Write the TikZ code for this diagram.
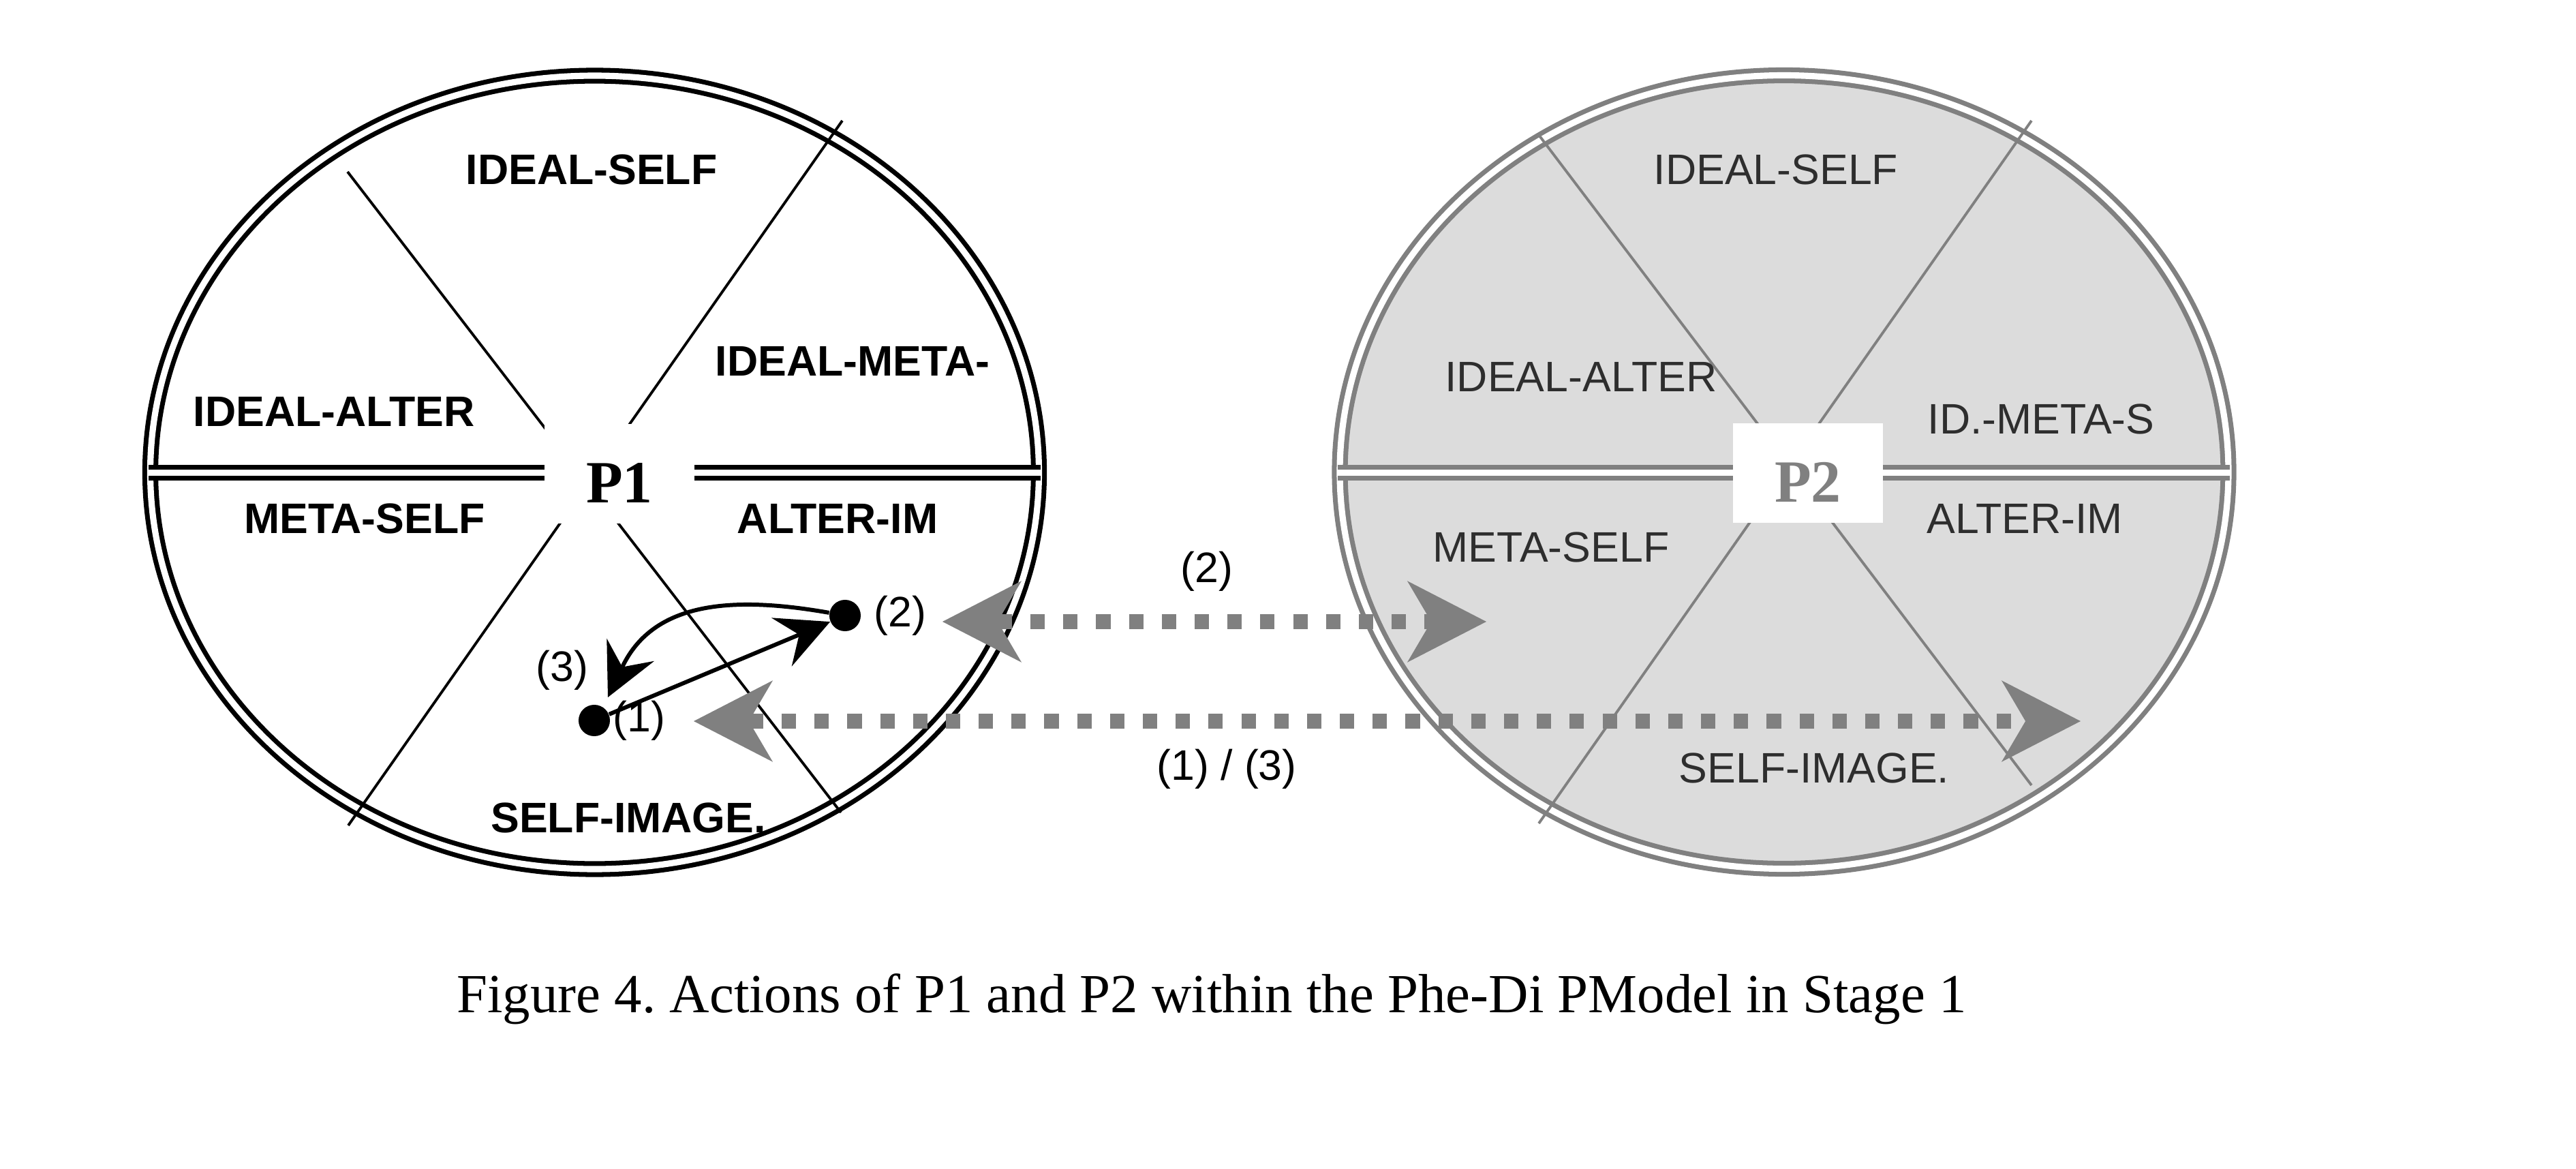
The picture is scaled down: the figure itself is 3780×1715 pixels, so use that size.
\documentclass[tikz,border=0pt]{standalone}
\usepackage{fontspec}
\setmainfont{Liberation Serif}
\newfontfamily\arialfont{Liberation Sans}
\usetikzlibrary{arrows.meta,positioning}
\frenchspacing

\definecolor{ringgray}{HTML}{808080}
\definecolor{fillgray}{HTML}{DCDCDC}
\definecolor{labgray}{HTML}{2E2E2E}

\tikzset{
  ring/.style={line width=2pt, double=white, double distance=2.6pt},
  hbar/.style={line width=2pt, double=white, double distance=2.8pt},
  spoke/.style={line width=1.1pt},
  sector/.style={font=\arialfont\bfseries\fontsize{17.8}{20}\selectfont, inner sep=0pt},
  sectorp/.style={font=\arialfont\fontsize{17.8}{20}\selectfont, text=labgray, inner sep=0pt},
  num/.style={font=\arialfont\fontsize{17.8}{20}\selectfont, inner sep=0pt},
  pbox/.style={fill=white, inner sep=0pt, minimum width=2.2cm,
    text height=1.145cm, text depth=0.305cm, font=\bfseries\fontsize{25}{28}\selectfont},
  dot/.style={circle, fill=black, minimum size=0.46cm, inner sep=0pt},
  blackarrow/.style={line width=1.7pt, -{Stealth[length=22pt, width=22pt, inset=8pt, line width=0pt]}},
  grayhead/.tip={Stealth[length=33pt, width=34pt, inset=10pt, line width=0pt]},
  dotarrow/.style={draw=ringgray, line width=6.5pt, dash pattern=on 6pt off 7.7pt, grayhead-grayhead}
}

\begin{document}
\begin{tikzpicture}[x=0.01cm, y=-0.01cm]
\useasboundingbox (0,0) rectangle (3780,1715);

% P1
\coordinate (c1) at (872.5,693);
\draw[ring] (c1) ellipse [x radius=652, y radius=582];
\draw[spoke] (510,252) -- (1234,1192);
\draw[spoke] (1236,177) -- (511,1211);
\draw[hbar] (218,693.5) -- (1527,693.5);
\node[pbox] (p1) at (909,695) {P1};

\node[sector] (is1) at (868,249) {IDEAL-SELF};
\node[sector] (im1) at (1251,530) {IDEAL-META-};
\node[sector] (ia1) at (490,604) {IDEAL-ALTER};
\node[sector] (ms1) at (535,761) {META-SELF};
\node[sector] (al1) at (1229,761) {ALTER-IM};
\node[sector] (si1) at (922,1200) {SELF-IMAGE.};

% P2
\coordinate (c2) at (2618,692.5);
\fill[fillgray] (c2) ellipse [x radius=644, y radius=573];
\draw[ring, draw=ringgray] (c2) ellipse [x radius=652, y radius=582];
\draw[spoke, draw=ringgray] (2258,198) -- (2981,1152);
\draw[spoke, draw=ringgray] (2981,177) -- (2258,1208);
\draw[hbar, draw=ringgray] (1963,693.5) -- (3272,693.5);
\node[pbox, text=ringgray] (p2) at (2653,694) {P2};

\node[sectorp] (is2) at (2606,249) {IDEAL-SELF};
\node[sectorp] (ia2) at (2320,553) {IDEAL-ALTER};
\node[sectorp] (im2) at (2995,615) {ID.-META-S};
\node[sectorp] (al2) at (2971,761) {ALTER-IM};
\node[sectorp] (ms2) at (2276,803) {META-SELF};
\node[sectorp] (si2) at (2662,1127) {SELF-IMAGE.};

% actions
\node[dot] (d1) at (872,1057) {};
\node[dot] (d2) at (1240,903) {};
\node[num, right=0.03cm of d1] (n1) {(1)};
\node[num, right=0.18cm of d2] (n2) {(2)};
\node[num] (n3) at (825,983) {(3)};
\coordinate (t3) at (892,1023);
\draw[blackarrow] (d1) -- (d2);
\draw[blackarrow] (d2) .. controls (1080,875) and (960,880) .. (t3);

\coordinate (a2l) at (1383,912);
\coordinate (a2r) at (2181,912);
\coordinate (a1l) at (1018,1058);
\coordinate (a1r) at (3053,1058);
\draw[dotarrow] (a2l) -- (a2r);
\draw[dotarrow] (a1l) -- (a1r);
\node[num] (l2) at (1771,838) {(2)};
\node[num] (l13) at (1800,1128) {(1) / (3)};

\node[font=\fontsize{23}{27}\selectfont] (cap) at (1778,1466) {Figure 4. Actions of P1 and P2 within the Phe-Di PModel in Stage 1};
\end{tikzpicture}
\end{document}
